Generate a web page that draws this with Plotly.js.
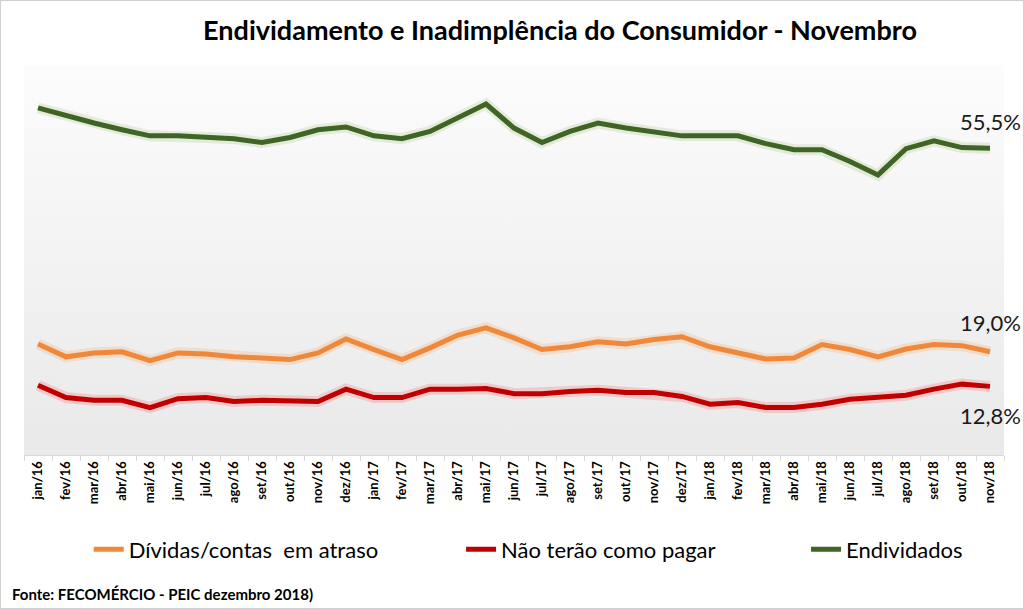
<!DOCTYPE html>
<html>
<head>
<meta charset="utf-8">
<script src="https://cdn.plot.ly/plotly-3.0.1.min.js"></script>
<style>
  html, body { margin: 0; padding: 0; background: #fff; }
  #chart { width: 1022px; height: 607px; border: 1px solid #d0d0d0; }
</style>
</head>
<body>
<div id="chart"></div>
<script>
const months = ["jan/16","fev/16","mar/16","abr/16","mai/16","jun/16","jul/16","ago/16","set/16","out/16","nov/16","dez/16",
  "jan/17","fev/17","mar/17","abr/17","mai/17","jun/17","jul/17","ago/17","set/17","out/17","nov/17","dez/17",
  "jan/18","fev/18","mar/18","abr/18","mai/18","jun/18","jul/18","ago/18","set/18","out/18","nov/18"];

const endividados = [62.7,61.3,60.0,58.8,57.7,57.7,57.4,57.2,56.5,57.4,58.8,59.3,
  57.7,57.2,58.5,61.0,63.4,59.1,56.5,58.5,60.0,59.1,58.4,57.7,
  57.7,57.7,56.3,55.2,55.2,53.1,50.7,55.4,56.8,55.6,55.5];

const dividasAtraso = [20.4,18.1,18.8,19.0,17.4,18.8,18.6,18.1,17.9,17.6,18.8,21.3,
  19.4,17.6,19.7,22.0,23.3,21.5,19.4,19.9,20.8,20.4,21.2,21.7,
  19.9,18.8,17.7,17.9,20.3,19.4,18.1,19.5,20.3,20.1,19.0];

const naoTeraoPagar = [13.0,10.8,10.3,10.3,9.0,10.6,10.8,10.1,10.3,10.3,10.1,12.3,
  10.8,10.8,12.3,12.3,12.4,11.5,11.5,11.9,12.1,11.7,11.7,11.0,
  9.6,9.9,9.0,9.0,9.6,10.5,10.8,11.2,12.3,13.2,12.8];

const seriesNames = ["Dívidas/contas  em atraso", "Não terão como pagar", "Endividados"];
const lastLabels = ["19,0%", "12,8%", "55,5%"];

const cOrange = "#f0883a", cRed = "#c00000", cGreen = "#3f6425";
const FONT = "Lato, 'Open Sans', sans-serif";

function glow(y, color) {
  return { x: months, y: y, type: "scatter", mode: "lines", showlegend: false, hoverinfo: "skip",
    line: { color: color, width: 11, shape: "linear" }, opacity: 0.18 };
}

const traces = [
  glow(dividasAtraso, cOrange),
  glow(naoTeraoPagar, "#ff3030"),
  glow(endividados, "#7fb050"),
  { x: months, y: dividasAtraso, name: seriesNames[0], type: "scatter", mode: "lines",
    line: { color: cOrange, width: 5 }, legend: "legend" },
  { x: months, y: naoTeraoPagar, name: seriesNames[1], type: "scatter", mode: "lines",
    line: { color: cRed, width: 5 }, legend: "legend2" },
  { x: months, y: endividados, name: seriesNames[2], type: "scatter", mode: "lines",
    line: { color: cGreen, width: 5 }, legend: "legend3" }
];

const n = months.length;
const gradSvg = '<svg xmlns="http://www.w3.org/2000/svg" width="10" height="100" preserveAspectRatio="none">' +
  '<defs><linearGradient id="g" x1="0" y1="0" x2="0" y2="1"><stop offset="0" stop-color="#fcfcfc"/>' +
  '<stop offset="1" stop-color="#e9e9e9"/></linearGradient></defs><rect width="10" height="100" fill="url(#g)"/></svg>';
const gradUrl = "data:image/svg+xml;base64," + btoa(gradSvg);

const legendFont = { family: FONT, size: 22, color: "#000" };
function leg(x) {
  return { orientation: "h", x: x, y: -0.242, xanchor: "left", yanchor: "middle",
    font: legendFont, bgcolor: "rgba(0,0,0,0)", itemwidth: 30 };
}

const layout = {
  width: 1022, height: 607,
  margin: { l: 23, r: 19, t: 64, b: 153 },
  paper_bgcolor: "#ffffff",
  plot_bgcolor: "rgba(0,0,0,0)",
  showlegend: true,
  title: { text: "<b>Endividamento e Inadimplência do Consumidor - Novembro</b>",
    font: { family: FONT, size: 27, color: "#000" },
    xref: "container", x: 0.547, xanchor: "center", yref: "container", y: 0.952, yanchor: "middle" },
  xaxis: {
    type: "category", range: [-0.5, n - 0.5], showgrid: false, zeroline: false,
    showline: true, linecolor: "#d9d9d9", linewidth: 1,
    ticks: "outside", tickson: "boundaries", ticklen: 5, tickcolor: "#d9d9d9",
    tickangle: -90, tickfont: { family: FONT, size: 13, color: "#000", weight: "bold" }
  },
  yaxis: { range: [0.5, 70.4], visible: false, showgrid: false, zeroline: false },
  images: [{ source: gradUrl, xref: "paper", yref: "paper", x: 0, y: 1, sizex: 1, sizey: 1,
    xanchor: "left", yanchor: "top", sizing: "stretch", layer: "below" }],
  legend: leg(0.066),
  legend2: leg(0.446),
  legend3: leg(0.798),
  annotations: [
    { x: months[n - 1], y: dividasAtraso[n - 1], text: lastLabels[0], showarrow: false, yshift: 29,
      font: { family: FONT, size: 22, color: "#1a1a1a" } },
    { x: months[n - 1], y: naoTeraoPagar[n - 1], text: lastLabels[1], showarrow: false, yshift: -29,
      font: { family: FONT, size: 22, color: "#1a1a1a" } },
    { x: months[n - 1], y: endividados[n - 1], text: lastLabels[2], showarrow: false, yshift: 27,
      font: { family: FONT, size: 22, color: "#1a1a1a" } },
    { xref: "paper", yref: "paper", x: -0.014, y: -0.357, xanchor: "left", yanchor: "middle",
      text: "<b>Fonte: FECOMÉRCIO - PEIC dezembro 2018)</b>", showarrow: false,
      font: { family: FONT, size: 15, color: "#000" } }
  ]
};

Plotly.newPlot("chart", traces, layout, { displayModeBar: false, staticPlot: true });
</script>
</body>
</html>
